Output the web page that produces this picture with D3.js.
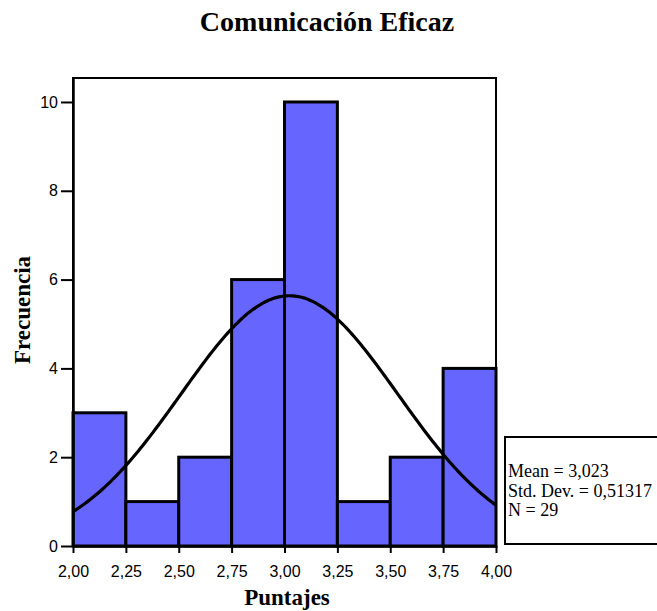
<!DOCTYPE html>
<html>
<head>
<meta charset="utf-8">
<script src="https://cdn.jsdelivr.net/npm/d3@7"></script>
<style>
  html, body { margin: 0; padding: 0; background: #fff; }
  svg { display: block; }
</style>
</head>
<body>
<svg id="chart" width="657" height="611"></svg>
<script>
// Histogram of "Comunicación Eficaz" scores with fitted normal curve
const binEdges = [2.00, 2.25, 2.50, 2.75, 3.00, 3.25, 3.50, 3.75, 4.00];
const counts   = [3, 1, 2, 6, 10, 1, 2, 4];
const xTicks   = [2.00, 2.25, 2.50, 2.75, 3.00, 3.25, 3.50, 3.75, 4.00];
const yTicks   = [0, 2, 4, 6, 8, 10];
const meanVal  = 3.023;
const sdVal    = 0.51317;
const nVal     = 29;
const statLines = ["Mean = 3,023", "Std. Dev. = 0,51317", "N = 29"];

const svg = d3.select("#chart");
const plot = { left: 73, right: 496, top: 78, bottom: 546 };

const x = d3.scaleLinear().domain([2.0, 4.0]).range([plot.left, plot.right]);
const y = d3.scaleLinear().domain([0, 10.54]).range([plot.bottom, plot.top]);

const comma = d => d3.format(".2f")(d).replace(".", ",");

// Title
svg.append("text")
  .attr("x", 327).attr("y", 31)
  .attr("text-anchor", "middle")
  .attr("font-family", "Liberation Serif, Times New Roman, serif")
  .attr("font-weight", "bold")
  .attr("font-size", 28)
  .text("Comunicación Eficaz");

// Plot frame
svg.append("rect")
  .attr("x", plot.left).attr("y", plot.top)
  .attr("width", plot.right - plot.left)
  .attr("height", plot.bottom - plot.top)
  .attr("fill", "none").attr("stroke", "#000").attr("stroke-width", 2);

// Bars
const bins = counts.map((c, i) => ({ x0: binEdges[i], x1: binEdges[i + 1], count: c }));
svg.append("g").selectAll("rect")
  .data(bins)
  .join("rect")
  .attr("x", d => x(d.x0))
  .attr("y", d => y(d.count))
  .attr("width", d => x(d.x1) - x(d.x0))
  .attr("height", d => y(0) - y(d.count))
  .attr("fill", "#6666ff")
  .attr("stroke", "#000")
  .attr("stroke-width", 3);

// Normal curve scaled to counts: N * binwidth * density
const binW = binEdges[1] - binEdges[0];
const steps = d3.range(0, 201).map(i => 2.0 + i * (2.0 / 200));
const curve = steps.map(v => {
  const z = (v - meanVal) / sdVal;
  return [v, nVal * binW * Math.exp(-0.5 * z * z) / (sdVal * Math.sqrt(2 * Math.PI))];
});
svg.append("path")
  .datum(curve)
  .attr("fill", "none")
  .attr("stroke", "#000")
  .attr("stroke-width", 3.2)
  .attr("d", d3.line().x(d => x(d[0])).y(d => y(d[1])).curve(d3.curveBasis));

// Axes
const xAxis = d3.axisBottom(x).tickValues(xTicks).tickFormat(comma).tickSize(7).tickSizeOuter(0);
const gx = svg.append("g").attr("transform", `translate(0,${plot.bottom})`).call(xAxis);
gx.select(".domain").attr("stroke-width", 2.5);
gx.selectAll(".tick line").attr("stroke-width", 2);
gx.selectAll(".tick text")
  .attr("font-family", "Liberation Sans, Arial, sans-serif")
  .attr("font-size", 16).attr("fill", "#000")
  .attr("dy", null).attr("y", 31);

const yAxis = d3.axisLeft(y).tickValues(yTicks).tickFormat(d3.format("d")).tickSize(12).tickSizeOuter(0);
const gy = svg.append("g").attr("transform", `translate(${plot.left},0)`).call(yAxis);
gy.select(".domain").attr("stroke-width", 2.5);
gy.selectAll(".tick line").attr("stroke-width", 2);
gy.selectAll(".tick text")
  .attr("font-family", "Liberation Sans, Arial, sans-serif")
  .attr("font-size", 16).attr("fill", "#000")
  .attr("x", -15);

// Axis titles
svg.append("text")
  .attr("x", 287).attr("y", 605)
  .attr("text-anchor", "middle")
  .attr("font-family", "Liberation Serif, Times New Roman, serif")
  .attr("font-weight", "bold").attr("font-size", 23)
  .text("Puntajes");

svg.append("text")
  .attr("transform", "translate(30,310) rotate(-90)")
  .attr("text-anchor", "middle")
  .attr("font-family", "Liberation Serif, Times New Roman, serif")
  .attr("font-weight", "bold").attr("font-size", 23)
  .text("Frecuencia");

// Statistics box
svg.append("rect")
  .attr("x", 505).attr("y", 437)
  .attr("width", 170).attr("height", 107)
  .attr("fill", "#fff").attr("stroke", "#000").attr("stroke-width", 2);

svg.append("g").selectAll("text")
  .data(statLines)
  .join("text")
  .attr("x", 508)
  .attr("y", (d, i) => 477 + i * 19.5)
  .attr("font-family", "Liberation Serif, Times New Roman, serif")
  .attr("font-size", 18)
  .text(d => d);
</script>
</body>
</html>
